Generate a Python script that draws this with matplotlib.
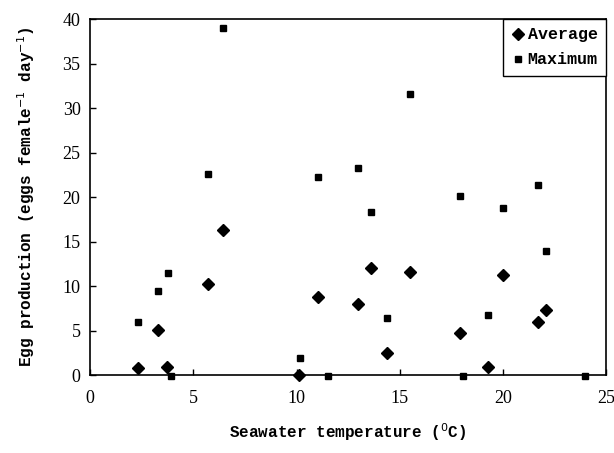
import matplotlib
matplotlib.use("Agg")
import matplotlib.pyplot as plt

# values
temp_avg = [2.3, 3.3, 3.7, 5.7, 6.45, 10.1, 11.05, 13.0, 13.6, 14.4, 15.5, 17.9, 19.3, 20.0, 21.7, 22.1]
egg_avg = [0.8, 5.1, 0.9, 10.2, 16.3, 0.0, 8.8, 8.0, 12.0, 2.5, 11.6, 4.75, 0.93, 11.2, 6.0, 7.3]

temp_max = [2.3, 3.3, 3.75, 3.9, 5.7, 6.45, 10.15, 11.05, 11.5, 13.0, 13.6, 14.4, 15.5,
            17.9, 18.05, 19.3, 20.0, 21.7, 22.1, 24.0]
egg_max = [6.0, 9.5, 11.5, -0.1, 22.6, 39.0, 1.9, 22.25, -0.1, 23.3, 18.3, 6.4, 31.6,
           20.1, -0.1, 6.8, 18.8, 21.4, 13.9, -0.1]

xticks = [0, 5, 10, 15, 20, 25]
yticks = [0, 5, 10, 15, 20, 25, 30, 35, 40]

label_font = {"family": "Liberation Mono", "weight": "bold", "size": 11.5}

fig = plt.figure(figsize=(6.14, 4.53), dpi=100)
ax = fig.add_axes([0.147, 0.172, 0.84, 0.786])

ax.plot(temp_avg, egg_avg, "D", color="black", markersize=6.3, label="Average", clip_on=False)
ax.plot(temp_max, egg_max, "s", color="black", markersize=4, label="Maximum", clip_on=False)

ax.set_xlim(0, 25)
ax.set_ylim(0, 40)
ax.set_xticks(xticks)
ax.set_yticks(yticks)
ax.tick_params(direction="in", length=4, width=1, pad=7)
for lab in ax.get_xticklabels() + ax.get_yticklabels():
    lab.set_fontfamily("Liberation Serif")
    lab.set_fontsize(13)
for lab in ax.get_xticklabels():
    lab.set_y(-0.015)
for s in ax.spines.values():
    s.set_linewidth(1.2)

ax.set_xlabel(r"Seawater temperature ($^{0}$C)", fontdict=label_font, labelpad=10)
ax.set_ylabel(r"Egg production (eggs female$^{-1}$ day$^{-1}$)", fontdict=label_font, labelpad=18)

leg = ax.legend(loc="upper right", borderaxespad=0, fancybox=False, framealpha=1,
                edgecolor="black", handletextpad=0.2, handlelength=0.8,
                borderpad=0.5, labelspacing=0.6,
                prop={"family": "Liberation Mono", "weight": "bold", "size": 12})
leg.get_frame().set_linewidth(1.0)

fig.savefig("out.png", dpi=100)
